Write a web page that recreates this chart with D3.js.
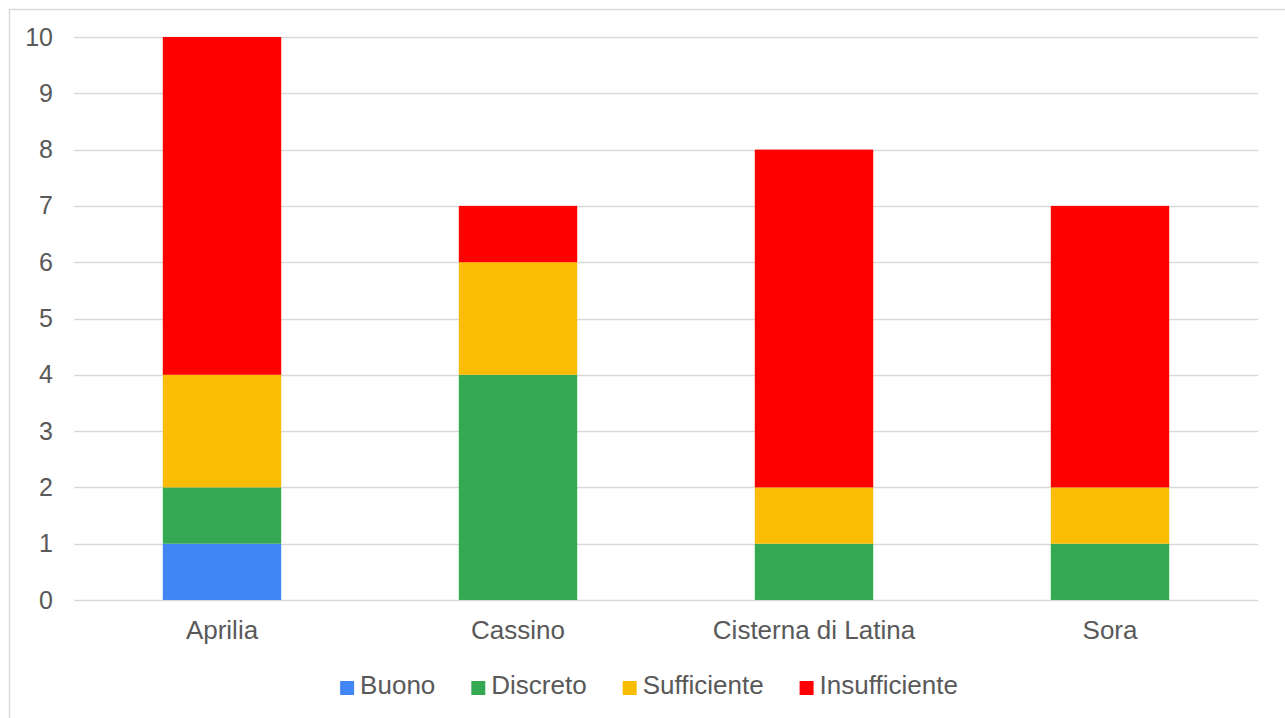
<!DOCTYPE html>
<html>
<head>
<meta charset="utf-8">
<script src="https://cdn.jsdelivr.net/npm/d3@7"></script>
<style>
  html, body { margin: 0; padding: 0; background: #ffffff; }
  svg { display: block; font-family: "Liberation Sans", Arial, sans-serif; }
</style>
</head>
<body>
<svg id="chart" width="1285" height="718"></svg>
<script>
// Categories (cities) and the count per rating class
const categories = ["Aprilia", "Cassino", "Cisterna di Latina", "Sora"];
const seriesNames = ["Buono", "Discreto", "Sufficiente", "Insufficiente"];
const buono = [1, 0, 0, 0];
const discreto = [1, 4, 1, 1];
const sufficiente = [2, 2, 1, 1];
const insufficiente = [6, 1, 6, 5];
const yTicks = [0, 1, 2, 3, 4, 5, 6, 7, 8, 9, 10];
const colors = ["#4285F4", "#34A853", "#FBBC04", "#FF0000"];

const seriesValues = [buono, discreto, sufficiente, insufficiente];
const rows = categories.map((c, i) => {
  const r = { category: c };
  seriesNames.forEach((s, j) => { r[s] = seriesValues[j][i]; });
  return r;
});

const svg = d3.select("#chart");
const W = 1285, H = 718;
const margin = { left: 74, right: 27, top: 37, bottom: 118 };
const textColor = "#595959";
const tickFont = 25;
const labelFont = 26;

// Outer chart frame
svg.append("rect")
  .attr("x", 9.5).attr("y", 9.5)
  .attr("width", W + 20).attr("height", H + 20)
  .attr("fill", "#ffffff")
  .attr("stroke", "#d9d9d9").attr("stroke-width", 1.5);

const x = d3.scaleBand()
  .domain(categories)
  .range([margin.left, W - margin.right])
  .paddingInner(0.6).paddingOuter(0.3);

const y = d3.scaleLinear()
  .domain([0, 10])
  .range([H - margin.bottom, margin.top]);

// Horizontal gridlines
svg.append("g")
  .selectAll("line")
  .data(yTicks)
  .join("line")
  .attr("x1", margin.left).attr("x2", W - margin.right)
  .attr("y1", d => Math.round(y(d)) + 0.5).attr("y2", d => Math.round(y(d)) + 0.5)
  .attr("stroke", "#d9d9d9").attr("stroke-width", 1.5);

// Y axis labels
const yAxis = d3.axisLeft(y).tickValues(yTicks).tickSize(0).tickPadding(21);
const gy = svg.append("g")
  .attr("transform", `translate(${margin.left},0)`)
  .call(yAxis);
gy.select(".domain").remove();
gy.selectAll("text")
  .attr("fill", textColor)
  .style("font-size", tickFont + "px")
  .style("font-family", "'Liberation Sans', Arial, sans-serif");

// Stacked bars
const stack = d3.stack().keys(seriesNames);
const stacked = stack(rows);

svg.append("g")
  .selectAll("g")
  .data(stacked)
  .join("g")
  .attr("fill", (d, i) => colors[i])
  .selectAll("rect")
  .data(d => d.filter(p => p[1] - p[0] > 0))
  .join("rect")
  .attr("x", d => x(d.data.category))
  .attr("width", x.bandwidth())
  .attr("y", d => y(d[1]))
  .attr("height", d => y(d[0]) - y(d[1]));

// Category labels
const xAxis = d3.axisBottom(x).tickSize(0).tickPadding(21);
const gx = svg.append("g")
  .attr("transform", `translate(0,${y(0)})`)
  .call(xAxis);
gx.select(".domain").remove();
gx.selectAll("text")
  .attr("fill", textColor)
  .style("font-size", labelFont + "px")
  .style("font-family", "'Liberation Sans', Arial, sans-serif");

// Legend, centred under the plot
const legend = svg.append("g");
const sw = 14, swGap = 6, itemGap = 36;
const items = legend.selectAll("g")
  .data(seriesNames)
  .join("g");
items.append("rect")
  .attr("width", sw).attr("height", sw)
  .attr("y", -13)
  .attr("fill", (d, i) => colors[i]);
items.append("text")
  .attr("x", sw + swGap)
  .attr("y", 0)
  .attr("fill", textColor)
  .style("font-size", labelFont + "px")
  .text(d => d);
let offset = 0;
items.each(function () {
  const g = d3.select(this);
  g.attr("transform", `translate(${offset},0)`);
  const tw = g.select("text").node().getComputedTextLength();
  offset += sw + swGap + tw + itemGap;
});
const totalW = offset - itemGap;
const legendCenter = 649;
legend.attr("transform", `translate(${legendCenter - totalW / 2},694)`);
</script>
</body>
</html>
